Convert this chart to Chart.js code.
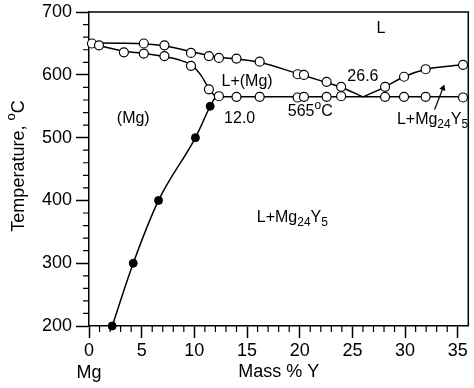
<!DOCTYPE html>
<html>
<head>
<meta charset="utf-8">
<script src="https://cdn.jsdelivr.net/npm/chart.js@4.4.1/dist/chart.umd.min.js"></script>
<style>
html, body { margin: 0; padding: 0; background: #fff; }
#wrap { width: 474px; height: 388px; position: relative; }
</style>
</head>
<body>
<div id="wrap"><canvas id="c"></canvas></div>
<script>
/* Mg-Y phase diagram, Mg-rich side */
const FONT = 'Arial, "Liberation Sans", Helvetica, sans-serif';

const xTickVals = [0, 5, 10, 15, 20, 25, 30, 35];
const yTickVals = [200, 300, 400, 500, 600, 700];

// liquidus L / L+(Mg)
const liqMgX = [0, 3, 5.2, 7.2, 9.7, 11.4, 12.3, 14, 16.2, 19.8, 20.4, 22.5, 24, 26];
const liqMgY = [651, 650.5, 649.5, 646, 637, 631, 628, 625.5, 620, 602, 599, 588, 580, 565];
// solidus of (Mg)
const solMgX = [0, 1, 3.3, 5.2, 7.2, 8.5, 9.7, 10.6, 11.4, 12.0];
const solMgY = [651, 646.5, 638, 634, 629, 624, 616, 600, 578, 565];
// eutectic isotherm 565 C
const eutX = [12.0, 36];
const eutY = [565, 565];
// liquidus L / L+Mg24Y5
const liqYX = [26, 28.1, 29.9, 32, 35.5, 36];
const liqYY = [565, 581, 597, 609, 616, 617];
// solvus of (Mg)
const solvX = [2.2, 4.2, 6.6, 10.1, 11.5, 12.0];
const solvY = [200, 300, 400, 500, 550, 565];

// measured points: open circles (thermal analysis)
const openX = [0.28, 5.2, 7.16, 9.68, 11.38, 12.33, 14, 16.2, 19.8, 20.4, 22.55, 23.93, 28.1, 29.9, 31.95, 35.5,
               0.95, 3.31, 5.2, 7.16, 9.68, 11.38, 12.33,
               14, 16.2, 19.8, 20.4, 22.55, 23.93, 28.1, 29.9, 31.95, 35.5];
const openY = [650, 650, 647, 635, 630, 627, 626, 621, 601, 600, 589, 581, 581, 597, 609, 616,
               647, 636, 634, 630, 614.5, 577, 566,
               565, 565, 564, 565, 565, 566, 565, 565, 565, 564];
// filled circles (solvus)
const fillX = [2.2, 4.2, 6.6, 10.1, 11.5];
const fillY = [200, 300, 400, 500, 550];

// pointer line to the L+Mg24Y5 field
const arrowX = [32.8, 33.6];
const arrowY = [545, 579];

const pts = (xs, ys) => xs.map((x, i) => ({ x, y: ys[i] }));

const curve = (xs, ys) => ({
    data: pts(xs, ys), showLine: true, borderColor: '#000', borderWidth: 1.5,
    pointRadius: 0, cubicInterpolationMode: 'monotone', clip: false, order: 2
});

// in-plot labels, [parts, x, y] in data units
const notes = [
    [[['L', '']], 27.7, 674],
    [[['L+(Mg)', '']], 15.0, 589],
    [[['26.6', '']], 26.0, 598],
    [[['(Mg)', '']], 4.2, 530],
    [[['12.0', '']], 14.3, 530],
    [[['565', ''], ['o', 'sup'], ['C', '']], 21.0, 541],
    [[['L+Mg', ''], ['24', 'sub'], ['Y', ''], ['5', 'sub']], 32.6, 529],
    [[['L+Mg', ''], ['24', 'sub'], ['Y', ''], ['5', 'sub']], 19.3, 373]
];

function richText(ctx, parts, cx, cy, size) {
    const small = Math.round(size * 0.72);
    let w = 0;
    const items = parts.map(([t, k]) => {
        ctx.font = `${k ? small : size}px ${FONT}`;
        const m = ctx.measureText(t).width; w += m;
        return { t, k, m };
    });
    let x = cx - w / 2;
    items.forEach(it => {
        ctx.font = `${it.k ? small : it.k === '' ? size : size}px ${FONT}`;
        if (it.k) ctx.font = `${small}px ${FONT}`; else ctx.font = `${size}px ${FONT}`;
        const dy = it.k === 'sub' ? size * 0.32 : it.k === 'sup' ? -size * 0.42 : 0;
        ctx.fillText(it.t, x, cy + dy);
        x += it.m;
    });
}

const decor = {
    id: 'decor',
    afterDraw(chart) {
        const { ctx, chartArea: a, scales: { x, y } } = chart;
        ctx.save();
        ctx.strokeStyle = '#000';
        ctx.lineWidth = 1.5;
        ctx.beginPath();
        ctx.moveTo(a.left, a.top); ctx.lineTo(a.right, a.top); ctx.lineTo(a.right, a.bottom);
        ctx.stroke();
        // minor ticks
        ctx.lineWidth = 1.2;
        ctx.beginPath();
        for (let v = 1; v < 36; v++) if (v % 5) {
            const px = x.getPixelForValue(v);
            ctx.moveTo(px, a.bottom); ctx.lineTo(px, a.bottom + 6);
        }
        for (let v = 220; v < 700; v += 20) if (v % 100) {
            const py = y.getPixelForValue(v);
            ctx.moveTo(a.left - 6, py); ctx.lineTo(a.left, py);
        }
        ctx.stroke();

        ctx.fillStyle = '#000';
        ctx.textAlign = 'left';
        ctx.textBaseline = 'middle';
        notes.forEach(([parts, nx, ny]) => richText(ctx, parts, x.getPixelForValue(nx), y.getPixelForValue(ny), 16));

        // "Mg" under the 0 tick
        richText(ctx, [['Mg', '']], x.getPixelForValue(0), 373, 18);

        // y axis title
        ctx.translate(19, 166);
        ctx.rotate(-Math.PI / 2);
        richText(ctx, [['Temperature, ', ''], ['o', 'sup'], ['C', '']], 0, 0, 18);
        ctx.restore();
    }
};

new Chart(document.getElementById('c'), {
    type: 'scatter',
    data: {
        datasets: [
            curve(liqMgX, liqMgY),
            curve(solMgX, solMgY),
            curve(eutX, eutY),
            curve(liqYX, liqYY),
            curve(solvX, solvY),
            { data: pts(arrowX, arrowY), showLine: true, borderColor: '#000', borderWidth: 1.2,
              pointRadius: [0, 2.5], pointStyle: 'triangle', pointRotation: 21,
              backgroundColor: '#000', pointBorderColor: '#000', clip: false, order: 2 },
            { data: pts(openX, openY), pointRadius: 4.5, pointBackgroundColor: '#fff',
              pointBorderColor: '#000', pointBorderWidth: 1.2, clip: false, order: 1 },
            { data: pts(fillX, fillY), pointRadius: 4, pointBackgroundColor: '#000',
              pointBorderColor: '#000', pointBorderWidth: 1, clip: false, order: 1 }
        ]
    },
    options: {
        responsive: true, maintainAspectRatio: false, animation: false,
        layout: { padding: { top: 8, right: 4, left: 0, bottom: 0 } },
        plugins: { legend: { display: false }, tooltip: { enabled: false } },
        elements: { point: { hoverRadius: 4.5 } },
        scales: {
            x: {
                type: 'linear', min: 0, max: 36,
                afterBuildTicks: s => { s.ticks = xTickVals.map(v => ({ value: v })); },
                afterFit: s => { s.height = 62; },
                ticks: { color: '#000', padding: 2, font: { family: FONT, size: 18 } },
                grid: { drawOnChartArea: false, drawTicks: true, tickLength: 12, tickColor: '#000', tickWidth: 1.5 },
                border: { display: true, color: '#000', width: 1.5 },
                title: { display: true, text: 'Mass % Y', color: '#000', padding: { top: 0, bottom: 5 },
                         font: { family: FONT, size: 18 } }
            },
            y: {
                type: 'linear', min: 200, max: 700,
                afterBuildTicks: s => { s.ticks = yTickVals.map(v => ({ value: v })); },
                afterFit: s => { s.width = 89; },
                ticks: { color: '#000', padding: 4, font: { family: FONT, size: 18, lineHeight: 0.9 } },
                grid: { drawOnChartArea: false, drawTicks: true, tickLength: 13, tickColor: '#000', tickWidth: 1.5 },
                border: { display: true, color: '#000', width: 1.5 }
            }
        }
    },
    plugins: [decor]
});
</script>
</body>
</html>
